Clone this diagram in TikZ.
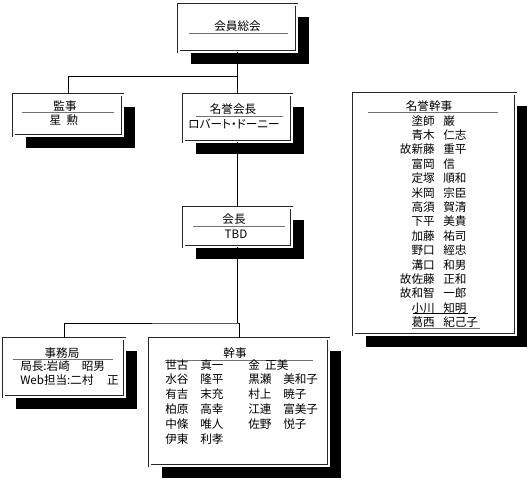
\documentclass[tikz,border=0pt]{standalone}
\usepackage{fontspec}
\setmainfont{Noto Sans CJK JP}

\begin{document}
\begin{tikzpicture}[x=0.75pt,y=-0.75pt,
  waku/.style={draw=black!85, double=white, double distance=1.5pt, line width=0.6pt,
    fill=white, inner sep=0pt,
    preaction={fill=black, transform canvas={xshift=9pt, yshift=-9pt}}},
  moji/.style={inner sep=0pt, font=\fontsize{8.7}{10.8}\selectfont},
  sen/.style={draw=black, line width=0.75pt},
  kasen/.style={draw=black!55, line width=0.75pt}]
  \useasboundingbox (0,0) rectangle (527,482);
  % 枠
  \node[waku, minimum width=88.5pt, minimum height=35.25pt] (soukai) at (237.5,28) {};
  \node[waku, minimum width=81.75pt, minimum height=30.75pt] (kansa) at (68,115) {};
  \node[waku, minimum width=81pt, minimum height=35.25pt] (meiyo) at (237.5,118) {};
  \node[waku, minimum width=81pt, minimum height=29.25pt] (kaicho) at (237.5,227) {};
  \node[waku, minimum width=90.75pt, minimum height=43.5pt] (jimu) at (64,367.5) {};
  \node[waku, minimum width=134.25pt, minimum height=95.25pt] (kanji) at (239,402) {};
  \node[waku, minimum width=121.5pt, minimum height=180.75pt] (meiyokanji) at (434.5,214) {};
  % 線
  \coordinate (bunki1) at (237.5,76);
  \coordinate (bunki2) at (237.5,323);
  \draw[sen] (soukai.south) -- (meiyo.north);
  \draw[sen] (bunki1) -| (kansa.north);
  \draw[sen] (meiyo.south) -- (kaicho.north);
  \draw[sen] (kaicho.south) -- (bunki2);
  \draw[sen] (jimu.north) |- (bunki2) -| (kanji.north);
  % 会員総会
  \node[moji] (soukai-t) at (237.5,26) {会員総会};
  \draw[kasen] (189,33) -- (288,33);
  % 監事
  \node[moji] (kansa-t) at (65,106) {監事};
  \draw[kasen] (22,112) -- (114,112);
  \node[moji] (kansa-n) at (64,120) {星\hspace{4pt}勲};
  % 名誉会長
  \node[moji] (meiyo-t) at (233,109) {名誉会長};
  \draw[kasen] (196,116) -- (283,116);
  \node[moji] (meiyo-n) at (234,124) {\addfontfeatures{RawFeature=+palt}ロバート・ドーニー};
  % 会長
  \node[moji] (kaicho-t) at (234,219) {会長};
  \draw[kasen] (193,226) -- (285,226);
  \node[moji] (kaicho-n) at (236,234) {TBD};
  % 事務局
  \node[moji] (jimu-t) at (62,353) {事務局};
  \draw[kasen] (13,359) -- (113,359);
  \node[moji, align=left, anchor=north west] (jimu-n) at (20,360)
    {局長:岩崎\hspace{9pt}昭男\\Web担当:二村\hspace{10pt}正};
  % 幹事
  \node[moji] (kanji-t) at (235,353) {幹事};
  \draw[kasen] (165,360) -- (313,360);
  \node[moji, font=\fontsize{8.7}{11.1}\selectfont, align=left, anchor=north west] (kanji-c1) at (165,359)
    {世古\\水谷\\有吉\\柏原\\中條\\伊東};
  \node[moji, font=\fontsize{8.7}{11.1}\selectfont, align=left, anchor=north west] (kanji-c2) at (200,359)
    {真一\\隆平\\末充\\高幸\\唯人\\利孝};
  \node[moji, font=\fontsize{8.7}{11.1}\selectfont, align=left, anchor=north west] (kanji-c3) at (248,359)
    {金\hspace{4pt}正美\\黒瀬\\村上\\江連\\佐野};
  \node[moji, font=\fontsize{8.7}{11.1}\selectfont, align=left, anchor=north west] (kanji-c4) at (283,359)
    {\phantom{美}\\美和子\\暁子\\富美子\\悦子};
  % 名誉幹事
  \node[moji] (meiyokanji-t) at (429,106) {名誉幹事};
  \draw[kasen] (368,112) -- (498,112);
  \node[moji, align=right, anchor=north east] (meiyokanji-c1) at (435,115)
    {塗師\\青木\\故新藤\\富岡\\定塚\\米岡\\高須\\下平\\加藤\\野口\\溝口\\故佐藤\\故和智\\小川\\葛西};
  \node[moji, align=left, anchor=north west] (meiyokanji-c2) at (443,115)
    {巌\\仁志\\重平\\信\\順和\\宗臣\\賀清\\美貴\\祐司\\經忠\\和男\\正和\\一郎\\知明\\紀己子};
  \draw[sen] (413,313) -- (468,313);
  \draw[kasen] (412,328) -- (480,328);
\end{tikzpicture}
\end{document}
